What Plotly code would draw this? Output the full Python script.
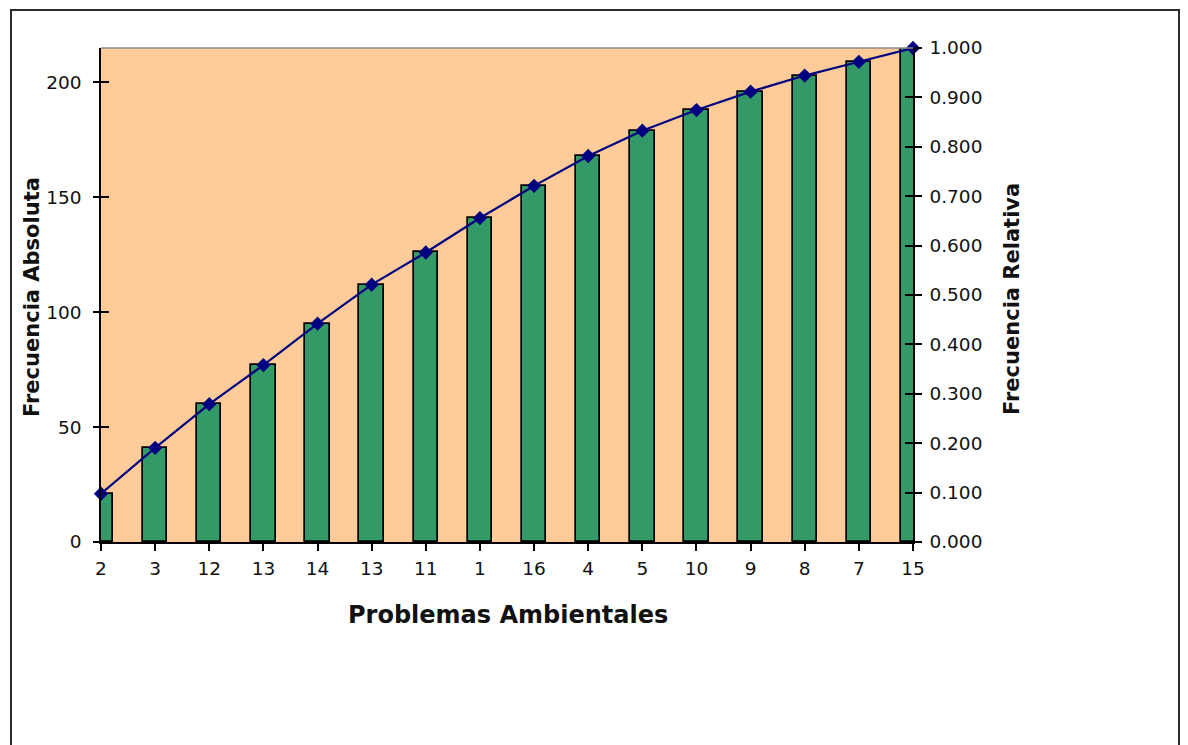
import plotly.graph_objects as go

# Problemas ambientales ordenados y su frecuencia absoluta acumulada
problemas = ["2", "3", "12", "13", "14", "13", "11", "1", "16", "4", "5", "10", "9", "8", "7", "15"]
frecuencia_acumulada = [21, 41, 60, 77, 95, 112, 126, 141, 155, 168, 179, 188, 196, 203, 209, 215]

total = frecuencia_acumulada[-1]
frecuencia_relativa = [v / total for v in frecuencia_acumulada]
posiciones = list(range(len(problemas)))

W, H = 1188, 745
M_L, M_R, M_T, M_B = 101, 275, 48, 203
PW = W - M_L - M_R
PH = H - M_T - M_B

FONT = "DejaVu Sans"
tick_font = dict(family=FONT, size=18.5, color="#111111")


def px_x(px):
    return (px - M_L) / PW


def px_y(py):
    return (H - M_B - py) / PH


fig = go.Figure()

fig.add_trace(go.Bar(
    x=posiciones,
    y=frecuencia_acumulada,
    width=0.45,
    marker=dict(color="#339966", line=dict(color="#000000", width=1.7)),
    yaxis="y",
    showlegend=False,
))

fig.add_trace(go.Scatter(
    x=posiciones,
    y=frecuencia_relativa,
    mode="lines+markers",
    line=dict(color="#000080", width=2.2),
    marker=dict(symbol="diamond", size=11, color="#000080"),
    yaxis="y2",
    cliponaxis=False,
    showlegend=False,
))

# invisible copies on the overlay axes that carry the inner half of the cross ticks
fig.add_trace(go.Scatter(x=posiciones, y=frecuencia_acumulada, yaxis="y3",
                         mode="none", hoverinfo="skip", showlegend=False))
fig.add_trace(go.Scatter(x=posiciones, y=frecuencia_relativa, yaxis="y4",
                         mode="none", hoverinfo="skip", showlegend=False))

axis_common = dict(showgrid=False, zeroline=False, tickcolor="#000000")

fig.update_layout(
    width=W,
    height=H,
    margin=dict(l=M_L, r=M_R, t=M_T, b=M_B),
    paper_bgcolor="#FFFFFF",
    plot_bgcolor="#FFCC99",
    bargap=0,
    xaxis=dict(
        range=[0, len(problemas) - 1],
        tickmode="array",
        tickvals=posiciones,
        ticktext=problemas,
        showline=True, linecolor="#000000", linewidth=1.5,
        ticks="outside", ticklen=7, tickwidth=1.5,
        tickfont=tick_font,
        ticklabelstandoff=2,
        **axis_common,
    ),
    yaxis=dict(
        range=[0, total],
        tick0=0, dtick=50,
        showline=True, linecolor="#000000", linewidth=1.5,
        ticks="outside", ticklen=6, tickwidth=1.5,
        tickfont=tick_font,
        ticklabelstandoff=8,
        **axis_common,
    ),
    yaxis2=dict(
        overlaying="y", side="right", anchor="x",
        range=[0, 1],
        tick0=0, dtick=0.1, tickformat=".3f",
        showline=True, linecolor="#000000", linewidth=1.5,
        ticks="outside", ticklen=7, tickwidth=1.5,
        tickfont=tick_font,
        ticklabelstandoff=4,
        **axis_common,
    ),
    yaxis3=dict(
        overlaying="y", side="left", anchor="x",
        range=[0, total], tick0=0, dtick=50,
        ticks="inside", ticklen=8, tickwidth=1.5,
        showticklabels=False, showline=False,
        **axis_common,
    ),
    yaxis4=dict(
        overlaying="y", side="right", anchor="x",
        range=[0, 1], tick0=0, dtick=0.1,
        ticks="inside", ticklen=8, tickwidth=1.5,
        showticklabels=False, showline=False,
        **axis_common,
    ),
    shapes=[
        # plot area top border
        dict(type="line", xref="paper", yref="paper", x0=0, x1=1, y0=1, y1=1,
             line=dict(color="#8C8C8C", width=1.5), layer="above"),
        # chart frame
        dict(type="rect", xref="paper", yref="paper",
             x0=px_x(11), x1=px_x(1179), y0=px_y(10), y1=px_y(H + 20),
             line=dict(color="#2A2A2A", width=2), fillcolor="rgba(0,0,0,0)"),
    ],
    annotations=[
        dict(text="Problemas Ambientales", xref="paper", yref="paper",
             x=px_x(508), y=px_y(615), showarrow=False,
             xanchor="center", yanchor="middle",
             font=dict(family=FONT, size=24, color="#111111", weight="bold")),
        dict(text="Frecuencia Absoluta", xref="paper", yref="paper",
             x=px_x(32), y=px_y(297), showarrow=False, textangle=-90,
             xanchor="center", yanchor="middle",
             font=dict(family=FONT, size=21, color="#111111", weight="bold")),
        dict(text="Frecuencia Relativa", xref="paper", yref="paper",
             x=px_x(1012), y=px_y(299), showarrow=False, textangle=-90,
             xanchor="center", yanchor="middle",
             font=dict(family=FONT, size=21, color="#111111", weight="bold")),
    ],
)

fig.write_html("out.html")
